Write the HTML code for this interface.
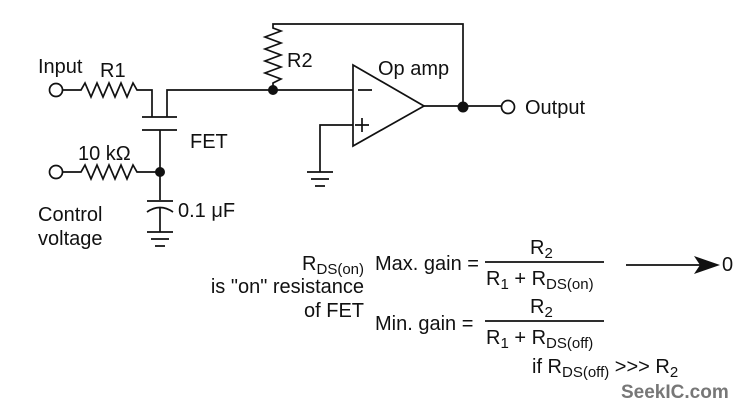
<!DOCTYPE html>
<html><head><meta charset="utf-8"><style>
body{margin:0;background:#fff}
svg{display:block}
text{font-family:"Liberation Sans",sans-serif;fill:#111}
</style></head><body>
<svg width="744" height="410" viewBox="0 0 744 410" xmlns="http://www.w3.org/2000/svg">
<g stroke="#111" stroke-width="1.7" fill="none">
<circle cx="56" cy="90" r="6.5" fill="#fff"/>
<path d="M62.5 90 H81 L85 83 L91 97 L97 83 L103 97 L109 83 L115 97 L121 83 L127 97 L133 83 L137 90 H152 V117"/>
<path d="M167 117 V90 H273"/>
<path d="M142 117 H177 M142 130 H177"/>
<path d="M160 130 V200"/>
<circle cx="56" cy="172" r="6.5" fill="#fff"/>
<path d="M62.5 172 H81 L85 165 L91 179 L97 165 L103 179 L109 165 L115 179 L121 165 L127 179 L133 165 L137 172 H160"/>
<path d="M147 201 H173"/>
<path d="M147 212 Q160 203 173 212"/>
<path d="M160 207 V232 M147 232 H173 M151 239 H169 M155 246 H165"/>
<path d="M273 90 V83 L281 79 L265 73 L281 67 L265 61 L281 55 L265 49 L281 43 L265 37 L281 31 L273 28 V24 H463 V107"/>
<path d="M273 90 H353 M424 106 H463 H501"/>
<circle cx="508" cy="107" r="6.5" fill="#fff"/>
<path d="M353 65 L424 106 L353 146 Z"/>
<path d="M358 90 H372 M362 118 V132 M355 125 H369"/>
<path d="M353 125 H320 V172 M307 172 H333 M311 179 H329 M315 186 H325"/>
<path d="M485 262 H604 M485 321 H604"/>
<path d="M626 265 H700"/>
</g>
<circle cx="160" cy="172" r="5" fill="#111"/>
<circle cx="273" cy="90" r="5" fill="#111"/>
<circle cx="463" cy="107" r="5.5" fill="#111"/>
<path d="M694 256 L720 265 L694 274 L700 265 Z" fill="#111"/>
<g font-size="20">
<text x="38" y="73">Input</text>
<text x="100" y="77">R1</text>
<text x="287" y="67">R2</text>
<text x="378" y="75">Op amp</text>
<text x="525" y="114">Output</text>
<text x="190" y="148">FET</text>
<text x="78" y="160">10 kΩ</text>
<text x="178" y="217">0.1 μF</text>
<text x="38" y="221">Control</text>
<text x="38" y="245">voltage</text>
<text x="364" y="270" text-anchor="end">R<tspan font-size="15" dy="4">DS(on)</tspan></text>
<text x="364" y="293" text-anchor="end">is "on" resistance</text>
<text x="364" y="317" text-anchor="end">of FET</text>
<text x="375" y="270">Max. gain =</text>
<text x="375" y="330">Min. gain =</text>
<text x="530" y="254">R<tspan font-size="15" dy="4">2</tspan></text>
<text x="486" y="285">R<tspan font-size="15" dy="4">1</tspan><tspan dy="-4"> + R</tspan><tspan font-size="15" dy="4">DS(on)</tspan></text>
<text x="530" y="313">R<tspan font-size="15" dy="4">2</tspan></text>
<text x="486" y="344">R<tspan font-size="15" dy="4">1</tspan><tspan dy="-4"> + R</tspan><tspan font-size="15" dy="4">DS(off)</tspan></text>
<text x="532" y="373">if R<tspan font-size="15" dy="4">DS(off)</tspan><tspan dy="-4"> &gt;&gt;&gt; R</tspan><tspan font-size="15" dy="4">2</tspan></text>
<text x="722" y="271">0</text>
</g>
<text x="621" y="398" font-size="19" font-weight="bold" style="fill:#777">SeekIC.com</text>
</svg>
</body></html>
